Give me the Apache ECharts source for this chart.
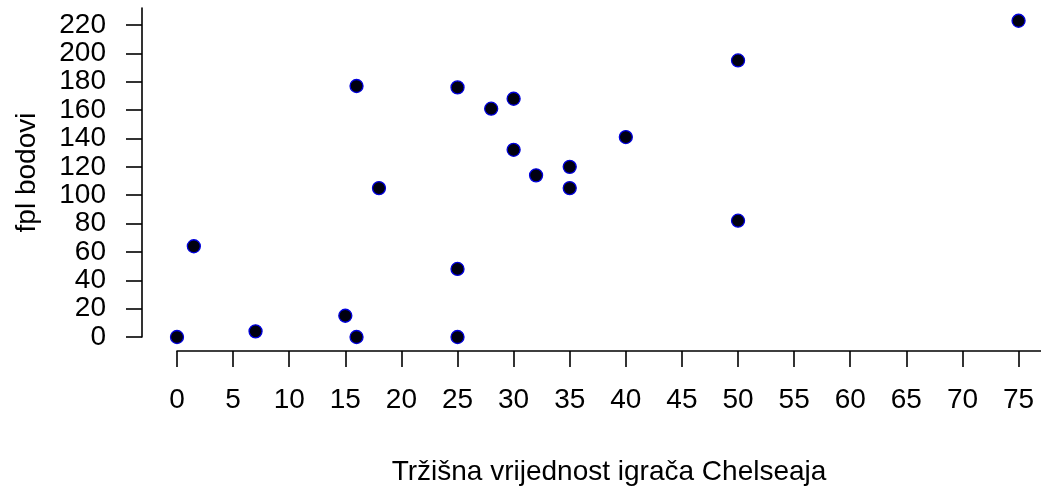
<!DOCTYPE html>
<html>
<head>
<meta charset="utf-8">
<script src="https://cdn.jsdelivr.net/npm/echarts@6/dist/echarts.min.js"></script>
<style>
html,body{margin:0;padding:0;background:#fff;}
#chart{width:1041px;height:491px;}
</style>
</head>
<body>
<div id="chart"></div>
<script>
// Market value (x) and FPL points (y)
const marketValue = [0, 1.5, 7, 15, 16, 16, 18, 25, 25, 25, 28, 30, 30, 32, 35, 35, 40, 50, 50, 75];
const fplPoints   = [0, 64, 4, 15, 0, 177, 105, 176, 48, 0, 161, 168, 132, 114, 120, 105, 141, 195, 82, 223];
const xTicks = [0, 5, 10, 15, 20, 25, 30, 35, 40, 45, 50, 55, 60, 65, 70, 75];
const yTicks = [0, 20, 40, 60, 80, 100, 120, 140, 160, 180, 200, 220];
const xTitle = 'Tržišna vrijednost igrača Chelseaja';
const yTitle = 'fpl bodovi';

const points = marketValue.map((v, i) => [v, fplPoints[i]]);
const font = '"Liberation Sans", Arial, sans-serif';

const chart = echarts.init(document.getElementById('chart'), null, {renderer: 'canvas'});
chart.setOption({
  backgroundColor: '#ffffff',
  animation: false,
  grid: {left: 177, right: 0, top: 8, bottom: 153, containLabel: false},
  xAxis: {
    type: 'value',
    min: 0, max: 77,
    offset: 14,
    splitLine: {show: false},
    axisLine: {show: true, onZero: false, lineStyle: {color: '#000', width: 1.6}},
    axisTick: {show: true, length: 16, customValues: xTicks, lineStyle: {color: '#000', width: 1.6}},
    axisLabel: {customValues: xTicks, margin: 35, color: '#000', fontSize: 28, fontFamily: font},
    name: xTitle,
    nameLocation: 'middle',
    nameGap: 107,
    nameTextStyle: {color: '#000', fontSize: 28, fontFamily: font}
  },
  yAxis: {
    type: 'value',
    min: 0, max: 232,
    offset: 35,
    splitLine: {show: false},
    axisLine: {show: true, onZero: false, lineStyle: {color: '#000', width: 1.6}},
    axisTick: {show: true, length: 16, customValues: yTicks, lineStyle: {color: '#000', width: 1.6}},
    axisLabel: {customValues: yTicks, margin: 36, color: '#000', fontSize: 28, fontFamily: font},
    name: yTitle,
    nameLocation: 'middle',
    nameGap: 101,
    nameRotate: 90,
    nameTextStyle: {color: '#000', fontSize: 28, fontFamily: font}
  },
  series: [{
    type: 'scatter',
    data: points,
    symbol: 'circle',
    symbolSize: 13,
    itemStyle: {color: '#000010', borderColor: '#0000dd', borderWidth: 1.3, opacity: 1}
  }]
});
</script>
</body>
</html>
